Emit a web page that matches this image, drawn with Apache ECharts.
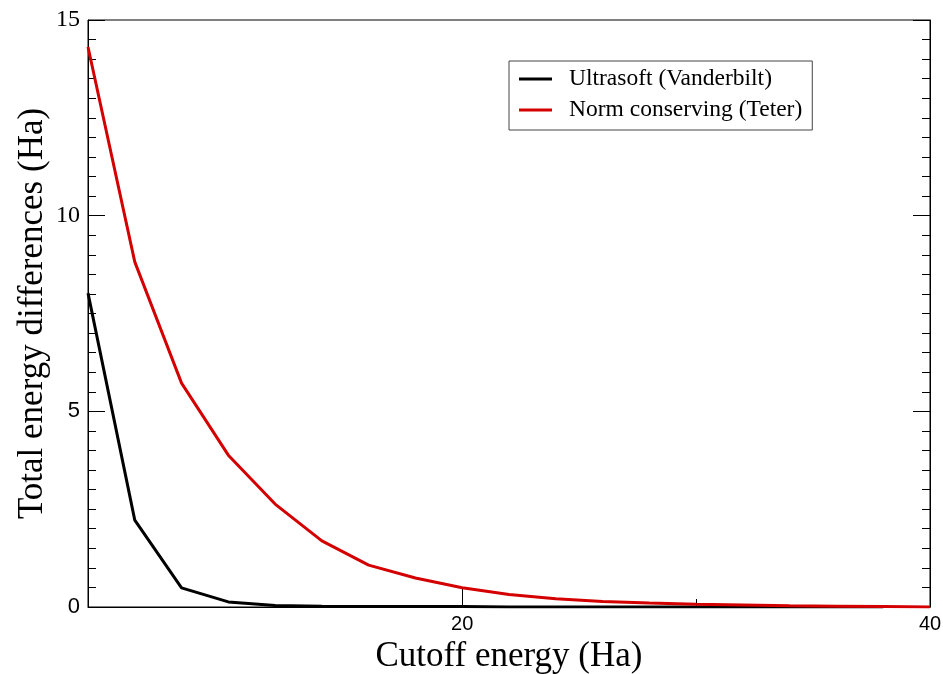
<!DOCTYPE html>
<html>
<head>
<meta charset="utf-8">
<script src="https://cdn.jsdelivr.net/npm/echarts@6/dist/echarts.min.js"></script>
<style>
  html, body { margin: 0; padding: 0; background: #fff; }
  #main { width: 943px; height: 674px; }
</style>
</head>
<body>
<div id="main"></div>
<script>
// cutoff energies (Ha)
var cutoff = [4, 6, 8, 10, 12, 14, 16, 18, 20, 22, 24, 26, 28, 30, 32, 34, 36, 38, 40];
// total energy differences (Ha)
var ultrasoft = [8.02, 2.22, 0.49, 0.13, 0.04, 0.02, 0.01, 0.01, 0.01, 0.0, 0.0, 0.0, 0.0, 0.0, 0.0, 0.0, 0.0, 0.0];
var normConserving = [14.31, 8.82, 5.72, 3.88, 2.63, 1.69, 1.07, 0.74, 0.49, 0.32, 0.21, 0.14, 0.10, 0.07, 0.05, 0.03, 0.02, 0.01, 0.0];
var xLabels = [20, 40];
var seriesNames = ['Ultrasoft (Vanderbilt)', 'Norm conserving (Teter)'];

function pairs(xs, ys) {
    var out = [];
    for (var i = 0; i < ys.length; i++) out.push([xs[i], ys[i]]);
    return out;
}

var serif = '"Liberation Serif", "DejaVu Serif", serif';
var sans = '"Liberation Sans", Arial, sans-serif';

var myChart = echarts.init(document.getElementById('main'));
myChart.setOption({
    animation: false,
    backgroundColor: '#fff',
    grid: {
        left: 88,
        right: 13,
        top: 20,
        bottom: 67,
        outerBoundsMode: 'none',
        containLabel: false,
        show: true,
        borderColor: '#000',
        borderWidth: 1
    },
    legend: {
        orient: 'vertical',
        left: 509,
        top: 61,
        padding: [6, 10, 8, 10],
        itemGap: 7,
        itemWidth: 33,
        itemHeight: 3,
        icon: 'rect',
        borderColor: '#444',
        borderWidth: 1,
        textStyle: { fontFamily: serif, fontSize: 23.5, color: '#000', padding: [0, 0, 0, 12] },
        data: seriesNames
    },
    xAxis: [{
        type: 'value',
        min: 4,
        max: 40,
        position: 'bottom',
        name: 'Cutoff energy (Ha)',
        nameLocation: 'middle',
        nameGap: 31,
        nameTextStyle: { fontFamily: serif, fontSize: 35, color: '#000' },
        splitLine: { show: false },
        axisLine: { show: true, lineStyle: { color: '#000', width: 1 } },
        axisTick: { show: true, inside: true, length: 18, customValues: xLabels, lineStyle: { color: '#000' } },
        axisLabel: { show: true, customValues: xLabels, margin: 7, fontFamily: sans, fontSize: 20, color: '#000' }
    }, {
        type: 'value',
        min: 4,
        max: 40,
        position: 'bottom',
        splitLine: { show: false },
        axisLine: { show: false },
        axisTick: { show: true, inside: true, length: 8, customValues: [30], lineStyle: { color: '#000' } },
        axisLabel: { show: false }
    }],
    yAxis: [{
        type: 'value',
        min: 0,
        max: 15,
        interval: 5,
        position: 'left',
        name: 'Total energy differences (Ha)',
        nameLocation: 'middle',
        nameGap: 38,
        nameMoveOverlap: false,
        nameTextStyle: { fontFamily: serif, fontSize: 35, color: '#000' },
        splitLine: { show: false },
        axisLine: { show: true, lineStyle: { color: '#000', width: 1 } },
        axisTick: { show: true, inside: true, length: 17, lineStyle: { color: '#000' } },
        minorTick: { show: true, splitNumber: 10, length: 8, lineStyle: { color: '#000' } },
        axisLabel: {
            margin: 8,
            fontFamily: serif, fontSize: 24, color: '#000',
            formatter: function (v) { return (v === 0 || v === 5) ? '{s|' + v + '}' : String(v); },
            rich: { s: { fontFamily: sans, fontSize: 22, color: '#000' } }
        }
    }, {
        type: 'value',
        min: 0,
        max: 15,
        interval: 5,
        position: 'right',
        splitLine: { show: false },
        axisLine: { show: true, lineStyle: { color: '#000', width: 1 } },
        axisTick: { show: true, inside: true, length: 17, lineStyle: { color: '#000' } },
        minorTick: { show: true, splitNumber: 10, length: 8, lineStyle: { color: '#000' } },
        axisLabel: { show: false }
    }],
    series: [{
        name: seriesNames[0],
        type: 'line',
        xAxisIndex: 0,
        yAxisIndex: 0,
        symbol: 'none',
        color: '#000',
        lineStyle: { color: '#000', width: 3 },
        data: pairs(cutoff, ultrasoft),
        z: 2
    }, {
        name: seriesNames[1],
        type: 'line',
        xAxisIndex: 0,
        yAxisIndex: 0,
        symbol: 'none',
        color: '#d40000',
        lineStyle: { color: '#d40000', width: 3 },
        data: pairs(cutoff, normConserving),
        z: 3
    }]
});
</script>
</body>
</html>
